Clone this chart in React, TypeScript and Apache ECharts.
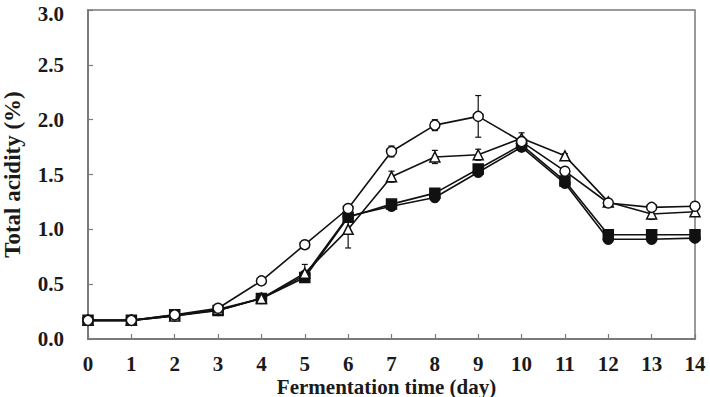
import React, { useEffect, useRef } from "react";
import * as echarts from "echarts";

// Fermentation day (x) and total acidity (%) for four treatments
const days = [0, 1, 2, 3, 4, 5, 6, 7, 8, 9, 10, 11, 12, 13, 14];

const openCircle = [0.17, 0.17, 0.22, 0.28, 0.53, 0.86, 1.19, 1.71, 1.95, 2.03, 1.8, 1.53, 1.24, 1.2, 1.21];
const openCircleErr = [0.01, 0.01, 0.01, 0.01, 0.02, 0.02, 0.03, 0.05, 0.05, 0.19, 0.04, 0.03, 0.02, 0.02, 0.02];

const openTriangle = [0.17, 0.17, 0.21, 0.27, 0.37, 0.6, 1.0, 1.48, 1.66, 1.68, 1.83, 1.67, 1.25, 1.14, 1.16];
const openTriangleErr = [0.01, 0.01, 0.01, 0.01, 0.02, 0.08, 0.17, 0.05, 0.06, 0.05, 0.05, 0.02, 0.02, 0.05, 0.03];

const filledSquare = [0.17, 0.17, 0.22, 0.26, 0.37, 0.56, 1.11, 1.23, 1.33, 1.55, 1.77, 1.44, 0.95, 0.95, 0.95];
const filledSquareErr = [0.01, 0.01, 0.01, 0.01, 0.02, 0.03, 0.03, 0.03, 0.04, 0.03, 0.03, 0.03, 0.03, 0.03, 0.02];

const filledCircle = [0.17, 0.17, 0.21, 0.26, 0.37, 0.58, 1.12, 1.21, 1.29, 1.52, 1.75, 1.42, 0.91, 0.91, 0.92];
const filledCircleErr = [0.01, 0.01, 0.01, 0.01, 0.02, 0.03, 0.03, 0.03, 0.03, 0.03, 0.03, 0.03, 0.03, 0.02, 0.02];

const yTicks = [0, 0.5, 1.0, 1.5, 2.0, 2.5, 3.0];

const FONT = "'Liberation Serif', 'Times New Roman', serif";
const INK = "#111";
const TEXT = "#1a1a1a";
const AXIS = "#7a7a7a";

type Spec = {
  name: string;
  values: number[];
  errors: number[];
  symbol: string;
  size: number;
  fill: string;
  z: number;
};

const specs: Spec[] = [
  { name: "filled circle", values: filledCircle, errors: filledCircleErr, symbol: "circle", size: 10, fill: INK, z: 3 },
  { name: "filled square", values: filledSquare, errors: filledSquareErr, symbol: "rect", size: 10, fill: INK, z: 4 },
  { name: "open triangle", values: openTriangle, errors: openTriangleErr, symbol: "triangle", size: 10, fill: "#fff", z: 5 },
  { name: "open circle", values: openCircle, errors: openCircleErr, symbol: "circle", size: 10, fill: "#fff", z: 6 },
];

function errorBarSeries(s: Spec) {
  return {
    type: "custom",
    name: s.name + " SD",
    z: s.z - 0.5,
    data: days.map((d, i) => [d, s.values[i] - s.errors[i], s.values[i] + s.errors[i]]),
    renderItem: (_params: any, api: any) => {
      const x = api.value(0);
      const lo = api.coord([x, api.value(1)]);
      const hi = api.coord([x, api.value(2)]);
      const cap = 3;
      const style = { stroke: INK, lineWidth: 1.2 };
      return {
        type: "group",
        children: [
          { type: "line", shape: { x1: lo[0], y1: lo[1], x2: hi[0], y2: hi[1] }, style },
          { type: "line", shape: { x1: lo[0] - cap, y1: lo[1], x2: lo[0] + cap, y2: lo[1] }, style },
          { type: "line", shape: { x1: hi[0] - cap, y1: hi[1], x2: hi[0] + cap, y2: hi[1] }, style },
        ],
      };
    },
    silent: true,
  };
}

function lineSeries(s: Spec) {
  return {
    type: "line",
    name: s.name,
    z: s.z,
    data: days.map((d, i) => [d, s.values[i]]),
    symbol: s.symbol,
    symbolSize: s.size,
    showAllSymbol: true,
    lineStyle: { color: INK, width: 1.6 },
    itemStyle: { color: s.fill, borderColor: INK, borderWidth: 1.5, opacity: 1 },
    emphasis: { disabled: true },
  };
}

const labelFont = { fontFamily: FONT, fontWeight: "bold" as const, fontSize: 21, color: TEXT };

export default function App() {
  const ref = useRef<HTMLDivElement>(null);

  useEffect(() => {
    if (!ref.current) return;
    const chart = echarts.init(ref.current, undefined, { renderer: "svg" });
    const yMax = yTicks[yTicks.length - 1];
    chart.setOption({
      animation: false,
      backgroundColor: "#fff",
      grid: {
        left: 88,
        top: 10,
        right: 15,
        bottom: 58,
        outerBoundsMode: "none",
        containLabel: false,
        show: true,
        borderColor: AXIS,
        borderWidth: 1.5,
      },
      xAxis: {
        type: "value",
        min: 0,
        max: 14,
        interval: 1,
        name: "Fermentation time (day)",
        nameLocation: "middle",
        nameGap: 37,
        nameMoveOverlap: false,
        nameTextStyle: { fontFamily: FONT, fontWeight: "bold", fontSize: 21, color: TEXT, padding: [0, 10, 0, 0] },
        axisLine: { lineStyle: { color: AXIS, width: 2 } },
        axisTick: { inside: true, length: 5, lineStyle: { color: AXIS, width: 1.2 } },
        axisLabel: { ...labelFont, margin: 14 },
        splitLine: { show: false },
      },
      yAxis: {
        type: "value",
        min: 0,
        max: yMax,
        interval: 0.5,
        name: "Total acidity (%)",
        nameLocation: "middle",
        nameGap: 64,
        nameRotate: 90,
        nameTextStyle: { fontFamily: FONT, fontWeight: "bold", fontSize: 23, color: TEXT },
        axisLine: { show: true, lineStyle: { color: AXIS, width: 2 } },
        axisTick: { show: true, inside: true, length: 5, lineStyle: { color: AXIS, width: 1.2 } },
        axisLabel: {
          ...labelFont,
          margin: 24,
          formatter: (v: number) => {
            if (!yTicks.includes(v)) return "";
            // the top label sits a little lower so it stays inside the page
            return v === yMax ? `{top|${v.toFixed(1)}}` : v.toFixed(1);
          },
          rich: { top: { ...labelFont, padding: [7, 0, 0, 0] } },
        },
        splitLine: { show: false },
      },
      series: [...specs.map(errorBarSeries), ...specs.map(lineSeries)],
    });
    return () => chart.dispose();
  }, []);

  return <div ref={ref} style={{ position: "absolute", left: 0, top: 0, width: 710, height: 397 }} />;
}
